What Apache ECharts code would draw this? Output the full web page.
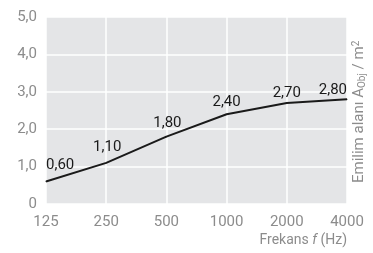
<!DOCTYPE html>
<html>
<head>
<meta charset="utf-8">
<script src="https://cdn.jsdelivr.net/npm/echarts@6/dist/echarts.min.js"></script>
<style>
  html, body { margin: 0; padding: 0; background: #fff; }
  #chart { width: 373px; height: 253px; }
</style>
</head>
<body>
<div id="chart"></div>
<script>
var frequencies = ['125', '250', '500', '1000', '2000', '4000'];
var areaValues = [0.60, 1.10, 1.80, 2.40, 2.70, 2.80];
var yTicks = [0, 1, 2, 3, 4, 5];

var myChart = echarts.init(document.getElementById('chart'));

function comma(v, digits) {
  return v.toFixed(digits).replace('.', ',');
}

// label placement per point (first one hangs right, last one hangs left)
var labelPos = [
  { align: 'left', offset: [0, 0] },
  { align: 'center', offset: [1, 0] },
  { align: 'center', offset: [1, 3] },
  { align: 'center', offset: [0, 4] },
  { align: 'center', offset: [0, 6] },
  { align: 'right', offset: [0, 7] }
];

var option = {
  animation: false,
  textStyle: { fontFamily: 'Roboto' },
  grid: {
    left: 46, right: 26, top: 17, bottom: 49,
    show: true, backgroundColor: '#e4e5e7', borderWidth: 0,
    outerBoundsMode: 'none'
  },
  xAxis: {
    type: 'category',
    data: frequencies,
    boundaryGap: false,
    axisLine: { show: false },
    axisTick: { show: false },
    axisLabel: { color: '#8c8c8c', fontSize: 15, margin: 11 },
    splitLine: { show: true, lineStyle: { color: '#fff', width: 1.5 } }
  },
  yAxis: {
    type: 'value',
    min: yTicks[0],
    max: yTicks[yTicks.length - 1],
    interval: 1,
    axisLine: { show: false },
    axisTick: { show: false },
    axisLabel: {
      color: '#8c8c8c', fontSize: 15, margin: 9,
      formatter: function (v) { return v === 0 ? '0' : comma(v, 1); }
    },
    splitLine: { show: true, lineStyle: { color: '#fff', width: 1.5 } }
  },
  series: [{
    type: 'line',
    data: areaValues.map(function (v, i) {
      return {
        value: v,
        label: { align: labelPos[i].align, offset: labelPos[i].offset }
      };
    }),
    symbol: 'circle',
    symbolSize: 1,
    itemStyle: { color: '#1a1a1a' },
    lineStyle: { color: '#1a1a1a', width: 2 },
    label: {
      show: true,
      position: 'top',
      distance: 8,
      color: '#1a1a1a',
      fontSize: 15,
      formatter: function (p) { return comma(p.value, 2); }
    }
  }],
  graphic: [
    {
      type: 'text',
      right: 26,
      top: 233,
      style: {
        text: 'Frekans {i|f} (Hz)',
        fill: '#8c8c8c',
        font: '14px Roboto',
        rich: { i: { fontStyle: 'italic', fontSize: 14, fontFamily: 'Roboto', fill: '#8c8c8c' } }
      }
    },
    {
      type: 'text',
      x: 351,
      y: 183,
      rotation: Math.PI / 2,
      style: {
        text: 'Emilim alanı A{s|Obj} / m{p|2}',
        fill: '#8c8c8c',
        font: '15px Roboto',
        textVerticalAlign: 'top',
        rich: {
          s: { fontSize: 10, fontFamily: 'Roboto', fill: '#8c8c8c', verticalAlign: 'bottom', padding: [6, 0, 0, 0] },
          p: { fontSize: 10, fontFamily: 'Roboto', fill: '#8c8c8c', padding: [0, 0, 5, 0] }
        }
      }
    }
  ]
};

myChart.setOption(option);
</script>
</body>
</html>
